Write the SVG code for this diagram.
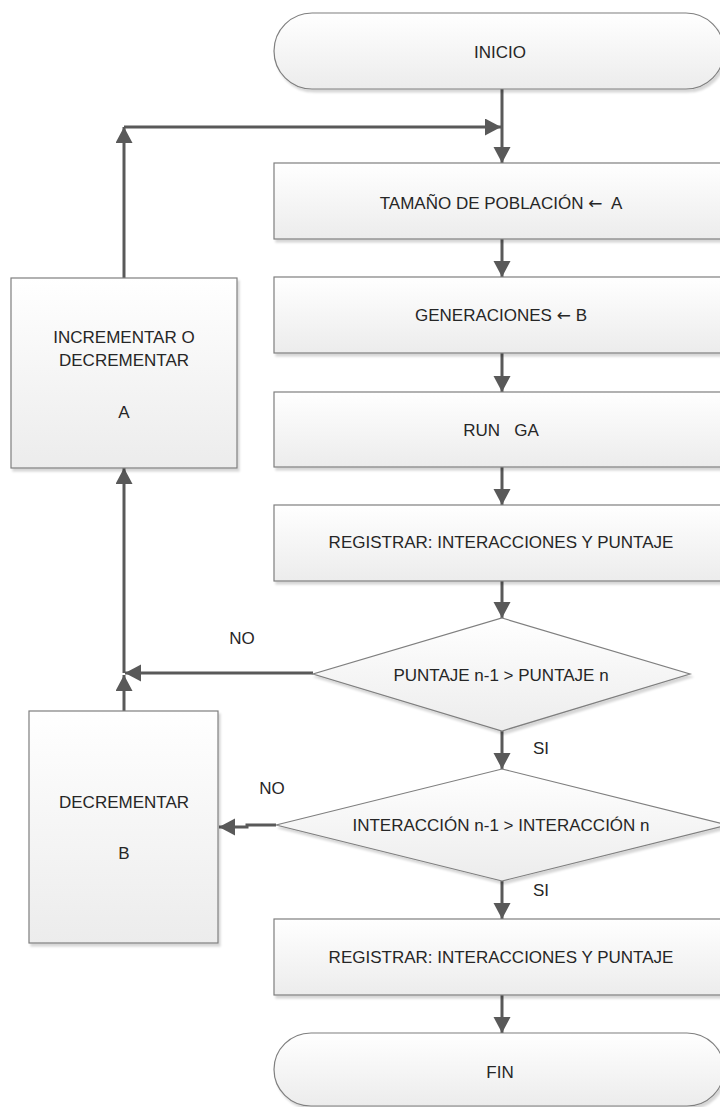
<svg xmlns="http://www.w3.org/2000/svg" width="720" height="1107" viewBox="0 0 720 1107">
  <defs>
    <linearGradient id="fill" x1="0" y1="0" x2="0" y2="1">
      <stop offset="0" stop-color="#ffffff"/>
      <stop offset="1" stop-color="#ececec"/>
    </linearGradient>
    <filter id="shadow" x="-5%" y="-5%" width="115%" height="125%">
      <feDropShadow dx="2" dy="3" stdDeviation="0.8" flood-color="#000000" flood-opacity="0.16"/>
    </filter>
    <marker id="arrow" markerUnits="userSpaceOnUse" markerWidth="17" markerHeight="18" refX="16" refY="8.5" orient="auto">
      <path d="M0,0 L16,8.5 L0,17 Z" fill="#595959"/>
    </marker>
    <style>
      .shape { fill: url(#fill); stroke: #7f7f7f; stroke-width: 1.2; filter: url(#shadow); }
      .label { font-family: "Liberation Sans", Arial, sans-serif; font-size: 17px; fill: #262626; text-anchor: middle; }
      .sym { font-family: "DejaVu Sans", sans-serif; }
      .conn { fill: none; stroke: #595959; stroke-width: 3; marker-end: url(#arrow); }
    </style>
  </defs>

  <rect width="720" height="1107" fill="#ffffff"/>

  <!-- connectors -->
  <g id="connectors">
    <path class="conn" d="M502,89 V163"/>
    <path class="conn" d="M124,127 H501"/>
    <path class="conn" d="M124,278 V127"/>
    <path class="conn" d="M502,239 V277"/>
    <path class="conn" d="M502,353 V392"/>
    <path class="conn" d="M502,467 V505"/>
    <path class="conn" d="M502,581 V618"/>
    <path class="conn" d="M502,731 V769"/>
    <path class="conn" d="M502,881 V919"/>
    <path class="conn" d="M502,995 V1033"/>
    <path class="conn" d="M313,673 H125"/>
    <path class="conn" d="M124,711 V675"/>
    <path class="conn" d="M124,673 V468"/>
    <path class="conn" d="M276,825 H247 V827 H219"/>
  </g>

  <!-- edge labels -->
  <g id="edge-labels">
    <text class="label" x="242" y="644">NO</text>
    <text class="label" x="272" y="794">NO</text>
    <text class="label" x="541" y="754">SI</text>
    <text class="label" x="541" y="896">SI</text>
  </g>

  <g id="inicio">
    <rect class="shape" x="274" y="13" width="450" height="76" rx="38" ry="38"/>
    <text class="label" x="500" y="58">INICIO</text>
  </g>

  <g id="tamano">
    <rect class="shape" x="274" y="163" width="456" height="76"/>
    <text class="label" x="501" y="209" xml:space="preserve">TAMAÑO DE POBLACIÓN <tspan class="sym">←</tspan>  A</text>
  </g>

  <g id="generaciones">
    <rect class="shape" x="274" y="277" width="456" height="76"/>
    <text class="label" x="501" y="321">GENERACIONES <tspan class="sym">←</tspan> B</text>
  </g>

  <g id="run-ga">
    <rect class="shape" x="274" y="392" width="456" height="75"/>
    <text class="label" x="501" y="436" xml:space="preserve">RUN   GA</text>
  </g>

  <g id="registrar-1">
    <rect class="shape" x="274" y="505" width="456" height="76"/>
    <text class="label" x="501" y="548">REGISTRAR: INTERACCIONES Y PUNTAJE</text>
  </g>

  <g id="puntaje">
    <polygon class="shape" points="502,618 690,674 502,731 313,674"/>
    <text class="label" x="501" y="681">PUNTAJE n-1 &gt; PUNTAJE n</text>
  </g>

  <g id="interaccion">
    <polygon class="shape" points="502,769 728,825 502,881 276,825"/>
    <text class="label" x="501" y="831">INTERACCIÓN n-1 &gt; INTERACCIÓN n</text>
  </g>

  <g id="registrar-2">
    <rect class="shape" x="274" y="919" width="456" height="76"/>
    <text class="label" x="501" y="963">REGISTRAR: INTERACCIONES Y PUNTAJE</text>
  </g>

  <g id="fin">
    <rect class="shape" x="274" y="1033" width="450" height="73" rx="37" ry="37"/>
    <text class="label" x="500" y="1078">FIN</text>
  </g>

  <g id="incrementar-a">
    <rect class="shape" x="11" y="278" width="226" height="190"/>
    <text class="label" x="124" y="343">INCREMENTAR O</text>
    <text class="label" x="124" y="366">DECREMENTAR</text>
    <text class="label" x="124" y="418">A</text>
  </g>

  <g id="decrementar-b">
    <rect class="shape" x="29" y="711" width="189" height="232"/>
    <text class="label" x="124" y="808">DECREMENTAR</text>
    <text class="label" x="124" y="859">B</text>
  </g>
</svg>
